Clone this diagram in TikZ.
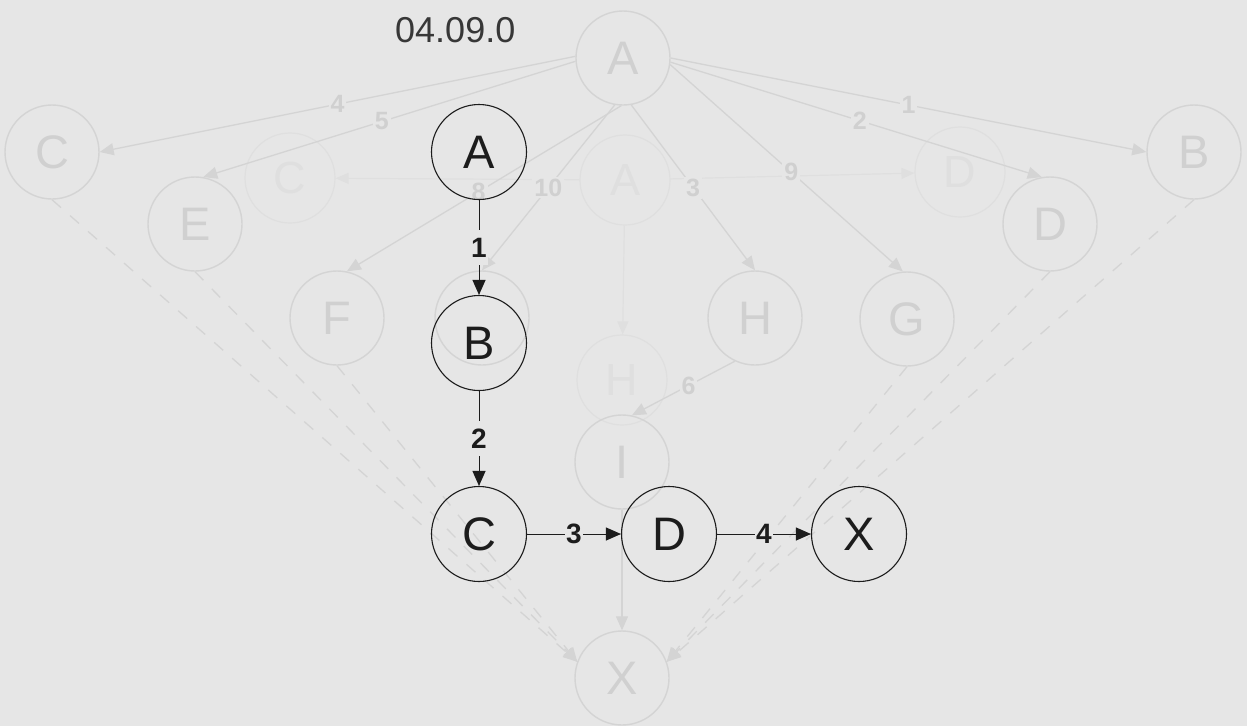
\documentclass[tikz,border=0pt]{standalone}
\usepackage{fontspec}
\setmainfont{Liberation Sans}
\usetikzlibrary{arrows.meta}
\definecolor{bg}{RGB}{230,230,230}
\definecolor{ghost}{RGB}{212,212,212}
\definecolor{ghosttxt}{RGB}{208,208,208}
\definecolor{faint}{RGB}{223,223,223}
\definecolor{fg}{RGB}{28,28,28}
\definecolor{titlecol}{RGB}{55,55,55}
\begin{document}
\begin{tikzpicture}[x=1pt,y=-1pt,
  fgnode/.style={circle,draw=fg,line width=1.1pt,minimum size=95pt,inner sep=0pt,font=\fontsize{47}{47}\selectfont,text=fg},
  ghnode/.style={circle,draw=ghost,line width=1.4pt,minimum size=94pt,inner sep=0pt,font=\fontsize{47}{47}\selectfont,text=ghosttxt},
  fanode/.style={circle,draw=faint,line width=1.2pt,minimum size=90pt,inner sep=0pt,font=\fontsize{45}{45}\selectfont,text=faint},
  fgedge/.style={draw=fg,line width=1pt,-{Triangle[length=15pt,width=13pt]}},
  ghedge/.style={draw=ghost,line width=1.3pt,-{Triangle[length=14pt,width=12pt]}},
  ghdash/.style={ghedge,dash pattern=on 12pt off 12pt},
  faedge/.style={draw=faint,line width=1.2pt,-{Triangle[length=13pt,width=11pt]}},
  fglab/.style={fill=bg,text=fg,font=\fontsize{28}{28}\selectfont\bfseries,inner xsep=1.5pt,inner ysep=8pt},
  ghlab/.style={fill=bg,text=ghosttxt,font=\fontsize{25}{25}\selectfont\bfseries,inner sep=2pt},
]
\fill[bg] (0,0) rectangle (1247,726);
\useasboundingbox (0,0) rectangle (1247,726);

% fainter ghost layer
\node[fanode] (fA) at (625,180) {A};
\node[fanode] (fC) at (290,178) {C};
\node[fanode] (fD) at (960,172) {D};
\node[fanode] (fH) at (622,380) {H};
\draw[faedge] (fA) -- (fC);
\draw[faedge] (fA) -- (fD);
\draw[faedge] (fA) -- (fH);

% ghost layer
\node[ghnode] (gA) at (623,58) {A};
\node[ghnode] (gC) at (52,152) {C};
\node[ghnode] (gE) at (195,224) {E};
\node[ghnode] (gF) at (337,318) {F};
\node[ghnode] (gJ) at (482,318) {};
\node[ghnode] (gH) at (755,318) {H};
\node[ghnode] (gG) at (907,319) {G};
\node[ghnode] (gD) at (1050,224) {D};
\node[ghnode] (gB) at (1194,152) {B};
\node[ghnode] (gI) at (622,462) {I};
\node[ghnode] (gX) at (622,678) {X};

\draw[ghedge] (gA.178) -- node[ghlab]{4} (gC.east);
\draw[ghedge] (gA.184) -- node[ghlab,pos=0.52]{5} (gE.80);
\draw[ghedge] (gA.268) -- node[ghlab,pos=0.52]{8} (gF.78);
\draw[ghedge] (gA.260) -- node[ghlab]{10} (gJ.north);
\draw[ghedge] (gA.280) -- node[ghlab]{3} (gH.north);
\draw[ghedge] (gA.-8) -- node[ghlab,pos=0.52]{9} (gG.95);
\draw[ghedge] (gA.-5) -- node[ghlab,pos=0.51]{2} (gD.100);
\draw[ghedge] (gA.0) -- node[ghlab]{1} (gB.west);
\draw[ghedge] (gH.245) -- node[ghlab,pos=0.45]{6} (gI.78);
\draw[ghedge] (gI.south) -- (gX.north);

\draw[ghdash] (gC.south) -- (gX.160);
\draw[ghdash] (gE.south) -- (gX.160);
\draw[ghdash] (gF.south) -- (gX.160);
\draw[ghdash] (gB.south) -- (gX.20);
\draw[ghdash] (gD.south) -- (gX.20);
\draw[ghdash] (gG.south) -- (gX.20);

% title
\node[font=\fontsize{36}{36}\selectfont,text=titlecol,anchor=base west,inner sep=0pt] (title) at (395,42) {04.09.0};

% foreground path
\node[fgnode] (A) at (479,152) {A};
\node[fgnode] (B) at (479,343) {B};
\node[fgnode] (C) at (479,534) {C};
\node[fgnode] (D) at (669,534) {D};
\node[fgnode] (X) at (859,534) {X};
\draw[fgedge] (A) -- node[fglab]{1} (B);
\draw[fgedge] (B) -- node[fglab]{2} (C);
\draw[fgedge] (C) -- node[fglab]{3} (D);
\draw[fgedge] (D) -- node[fglab]{4} (X);
\end{tikzpicture}
\end{document}
